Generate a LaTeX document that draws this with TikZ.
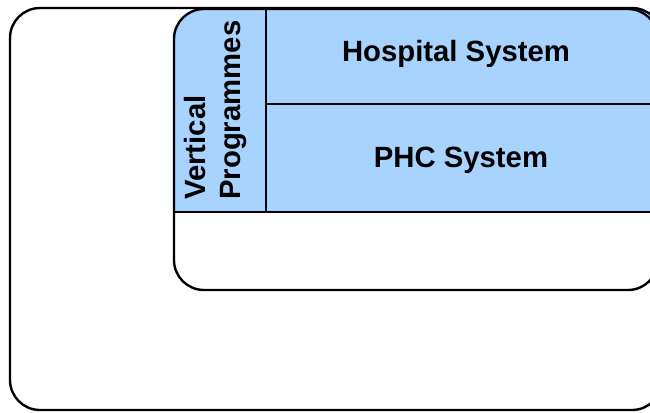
\documentclass[tikz,border=0pt]{standalone}
\usepackage{fontspec}
\setmainfont{Liberation Sans}
\begin{document}
\begin{tikzpicture}[x=1pt,y=-1pt,
  frame/.style={draw=black,line width=2.4pt,rounded corners=30pt},
  divider/.style={draw=black,line width=1.8pt},
  label/.style={font=\bfseries\fontsize{29.3}{31}\selectfont,inner sep=0pt},
  vlabel/.style={label,rotate=90,anchor=base west}]
\definecolor{cellblue}{RGB}{168,211,255}
\useasboundingbox (0,0) rectangle (650,412);
\clip (0,0) rectangle (650,412);

% corner points of the outer and inner frames
\coordinate (outerNW) at (10,8);
\coordinate (outerSE) at (662,410);
\coordinate (innerNW) at (174,9);
\coordinate (innerSE) at (658,290);

% blue block: vertical programmes column and the two system cells
\fill[cellblue] (174,212) {[rounded corners=30pt] -- (innerNW) -- (658,9)} -- (658,212) -- cycle;

% separating lines
\coordinate (colTop) at (266,9);
\coordinate (colBot) at (266,212);
\coordinate (midL) at (266,104);
\coordinate (midR) at (658,104);
\coordinate (baseL) at (174,212);
\coordinate (baseR) at (658,212);
\draw[divider] (colTop) -- (colBot);
\draw[divider] (midL) -- (midR);
\draw[divider] (baseL) -- (baseR);

% frames
\draw[frame] (outerNW) rectangle (outerSE);
\draw[frame] (innerNW) rectangle (innerSE);

% labels
\node[label,anchor=base] (hosp) at (456,62) {Hospital System};
\node[label,anchor=base] (phc) at (461,167) {PHC System};
\node[vlabel] (vert) at (205,200) {Vertical};
\node[vlabel] (prog) at (240,200) {Programmes};
\end{tikzpicture}
\end{document}
